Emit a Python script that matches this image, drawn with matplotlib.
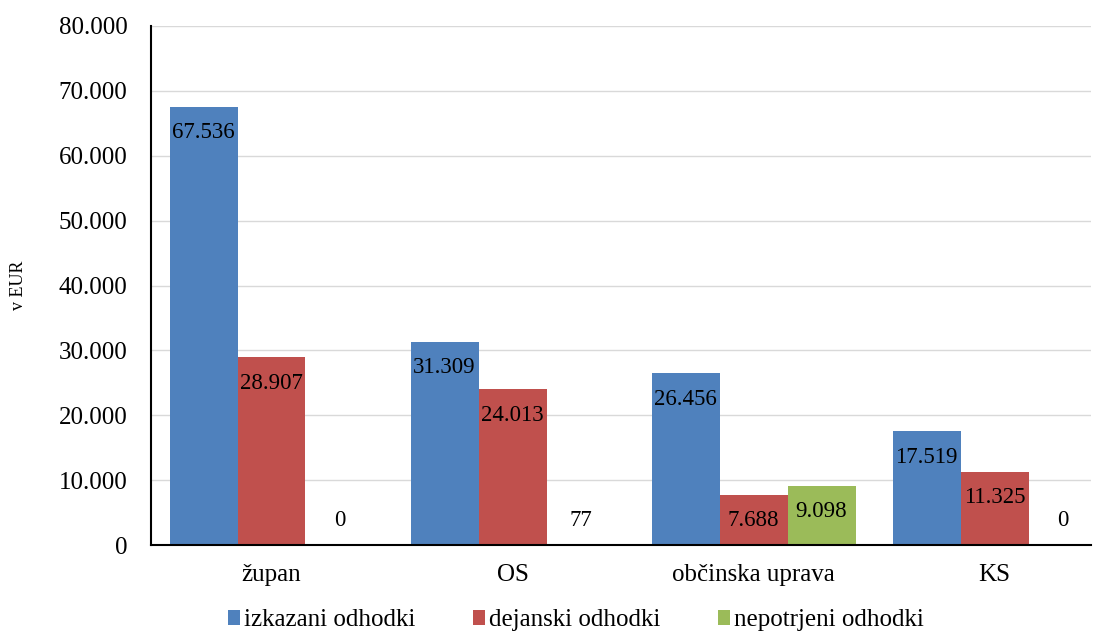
import numpy as np
import matplotlib.pyplot as plt

categories = ['župan', 'OS', 'občinska uprava', 'KS']
izkazani = [67536, 31309, 26456, 17519]
dejanski = [28907, 24013, 7688, 11325]
nepotrjeni = [0, 77, 9098, 0]
series_names = ['izkazani odhodki', 'dejanski odhodki', 'nepotrjeni odhodki']
colors = ['#4F81BD', '#C0504D', '#9BBB59']
yticks = np.arange(0, 80001, 10000)

plt.rcParams['font.family'] = ['Liberation Serif', 'DejaVu Serif']

def fmt(v):
    return '{:,}'.format(int(v)).replace(',', '.')

fig = plt.figure(figsize=(11.01, 6.33), dpi=100)
ax = fig.add_axes([151/1101, 88/633, 940/1101, 519/633])

x = np.arange(len(categories))
w = 0.282
for k, (vals, name, c) in enumerate(zip([izkazani, dejanski, nepotrjeni], series_names, colors)):
    pos = x + (k - 1) * w
    ax.bar(pos, vals, w, color=c, label=name, zorder=2)
    for p, v in zip(pos, vals):
        ly = max(v - 4000, 3850)
        ax.text(p, ly, fmt(v), ha='center', va='center', fontsize=16.5, color='black', zorder=3)

ax.set_xlim(-0.5, 3.4)
ax.set_ylim(0, 80000)
ax.set_yticks(yticks)
ax.set_yticklabels([fmt(t) for t in yticks], fontsize=18)
ax.set_xticks(x)
ax.set_xticklabels(categories, fontsize=18)
ax.tick_params(axis='x', length=0, pad=14)
ax.tick_params(axis='y', length=0, pad=17)
ax.grid(axis='y', color='#D9D9D9', linewidth=1, zorder=0)
for s in ['top', 'right']:
    ax.spines[s].set_visible(False)
ax.spines['left'].set_linewidth(1.5)
ax.spines['bottom'].set_linewidth(1.5)
ax.set_ylabel('v EUR', fontsize=13)
ax.yaxis.set_label_coords(-0.132, 0.5)

ax.legend(loc='center', bbox_to_anchor=(0.452, -0.145), ncol=3, frameon=False,
          fontsize=18, handlelength=0.5, handleheight=0.5, handletextpad=0.15, columnspacing=2.3)

fig.savefig('out.png', dpi=100)
